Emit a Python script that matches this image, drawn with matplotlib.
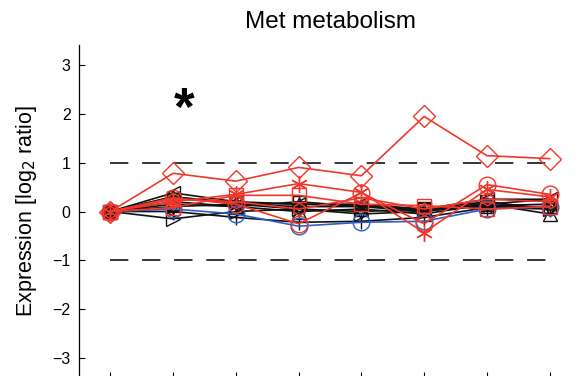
import matplotlib
matplotlib.use("Agg")
import matplotlib.pyplot as plt
import numpy as np

plt.rcParams['font.family'] = ['Liberation Sans', 'DejaVu Sans']

x = [1, 2, 3, 4, 5, 6, 7, 8]

# black series
blk_right = [0, -0.15, 0.00, 0.05, -0.05, 0.00, 0.18, 0.05]
blk_left = [0, 0.38, 0.20, 0.15, 0.15, 0.05, 0.25, 0.25]
blk_plus = [0, 0.00, -0.12, -0.22, -0.20, -0.12, 0.08, 0.05]
blk_x = [0, 0.30, 0.15, 0.10, 0.10, 0.00, 0.15, 0.25]
blk_up = [0, 0.20, 0.10, 0.00, 0.05, -0.05, 0.15, -0.05]
blk_down = [0, 0.10, 0.15, 0.05, 0.00, 0.05, 0.20, 0.05]
blk_square = [0, 0.15, 0.10, 0.20, 0.10, 0.05, 0.10, 0.10]
blk_star = [0, 0.30, 0.18, 0.15, 0.12, 0.02, 0.12, 0.15]

# blue series
blue_circle = [0, 0.05, -0.05, -0.30, -0.22, -0.20, 0.05, 0.10]

# red series
red_diamond = [0, 0.78, 0.62, 0.90, 0.73, 1.94, 1.14, 1.08]
red_star = [0, 0.20, 0.35, 0.57, 0.39, -0.43, 0.45, 0.30]
red_circle = [0, 0.28, 0.15, -0.25, 0.38, -0.25, 0.55, 0.35]
red_square = [0, 0.08, 0.33, 0.33, 0.15, 0.12, 0.05, 0.10]
red_hex = [0, 0.25, 0.20, 0.05, 0.28, 0.05, 0.25, 0.20]

RED = '#f2372a'
BLUE = '#2a5fc4'
BLK = '#111111'

fig = plt.figure(figsize=(5.79, 3.76), dpi=100)
ax = fig.add_axes([79/579, -2/376, 502/579, 333/376])

ax.plot([1, 8], [1, 1], color='black', lw=1.1, dashes=(12, 9))
ax.plot([1, 8], [-1, -1], color='black', lw=1.1, dashes=(12, 9))

kw = dict(lw=1.2, mfc='none', mew=1.0)
ax.plot(x, blk_right, color=BLK, marker='>', ms=10, **kw)
ax.plot(x, blk_left, color=BLK, marker='<', ms=10, **kw)
ax.plot(x, blk_plus, color=BLK, marker='+', ms=12, **kw)
ax.plot(x, blk_x, color=BLK, marker='x', ms=9, **kw)
ax.plot(x, blk_up, color=BLK, marker='^', ms=10, **kw)
ax.plot(x, blk_down, color=BLK, marker='v', ms=10, **kw)
ax.plot(x, blk_square, color=BLK, marker='s', ms=9, **kw)
ax.plot(x, blk_star, color=BLK, marker='*', ms=10, **kw)
ax.plot(x, blue_circle, color=BLUE, marker='o', ms=12, **kw)
ax.plot(x, red_hex, color=RED, marker='h', ms=9, **kw)
ax.plot(x, red_square, color=RED, marker='s', ms=10, **kw)
ax.plot(x, red_circle, color=RED, marker='o', ms=12, **kw)
ax.plot(x, red_star, color=RED, marker=(6, 2, 0), ms=12, **kw)
ax.plot(x, red_diamond, color=RED, marker='D', ms=11, **kw)

ax.text(2.18, 2.05, '*', fontsize=38, fontweight='bold', ha='center', va='center')

ax.set_xlim(0.5, 8.5)
ax.set_ylim(-3.4, 3.4)
ax.set_xticks(x)
ax.set_xticklabels([])
ax.set_yticks([-3, -2, -1, 0, 1, 2, 3])
ax.set_yticklabels(['\u22123', '\u22122', '\u22121', '0', '1', '2', '3'])
ax.tick_params(direction='in', length=4.5, width=0.8, labelsize=11.5, pad=6)
for s in ['top', 'right']:
    ax.spines[s].set_visible(False)
ax.spines['left'].set_linewidth(0.9)
ax.set_ylabel('Expression [log$_2$ ratio]', fontsize=15.5, labelpad=10)
ax.set_title('Met metabolism', fontsize=17.5, pad=12)

fig.savefig('out.png', dpi=100)
